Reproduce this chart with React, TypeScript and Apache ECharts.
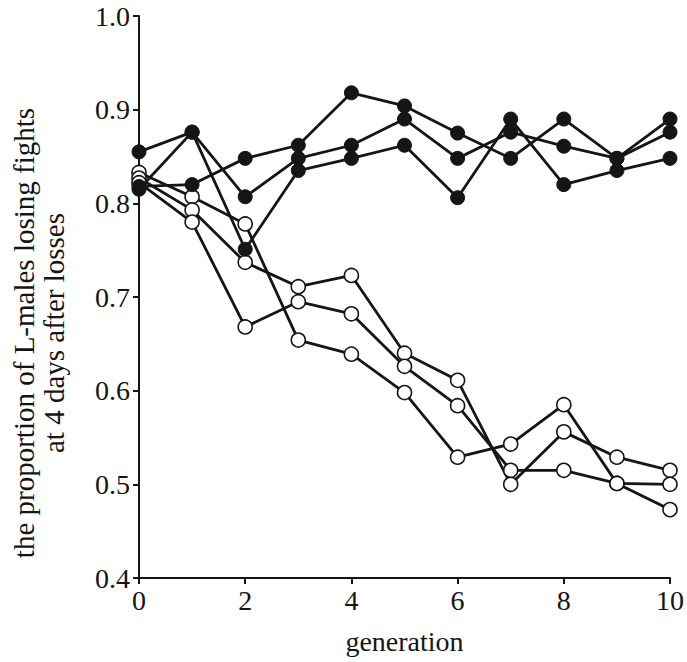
import React, { useEffect, useRef } from "react";
import * as echarts from "echarts";

const generations = [0, 1, 2, 3, 4, 5, 6, 7, 8, 9, 10];
const filledA = [0.855, 0.876, 0.751, 0.835, 0.848, 0.862, 0.806, 0.89, 0.82, 0.835, 0.848];
const filledB = [0.818, 0.82, 0.848, 0.862, 0.918, 0.904, 0.875, 0.848, 0.89, 0.848, 0.89];
const filledC = [0.815, 0.876, 0.807, 0.848, 0.862, 0.89, 0.848, 0.876, 0.861, 0.848, 0.876];
const openA = [0.833, 0.807, 0.778, 0.654, 0.639, 0.598, 0.529, 0.543, 0.585, 0.501, 0.473];
const openB = [0.827, 0.793, 0.737, 0.711, 0.723, 0.64, 0.611, 0.5, 0.556, 0.529, 0.515];
const openC = [0.822, 0.78, 0.668, 0.695, 0.682, 0.626, 0.584, 0.515, 0.515, 0.501, 0.5];

const xTicks = [0, 2, 4, 6, 8, 10];
const yTicks = [0.4, 0.5, 0.6, 0.7, 0.8, 0.9, 1.0];
const xName = "generation";
const yName = "the proportion of L-males losing fights\nat 4 days after losses";

const FONT = "'Liberation Serif', 'Times New Roman', serif";
const INK = "#151515";

function toPairs(vals: number[]) {
  return generations.map((g, i) => [g, vals[i]]);
}

export default function App() {
  const ref = useRef<HTMLDivElement>(null);
  useEffect(() => {
    if (!ref.current) return;
    const chart = echarts.init(ref.current, null, { renderer: "svg" });
    const mk = (vals: number[], filled: boolean) => ({
      type: "line",
      data: toPairs(vals),
      symbol: "circle",
      symbolSize: 14,
      showAllSymbol: true,
      lineStyle: { color: INK, width: 2.8 },
      itemStyle: filled
        ? { color: INK, borderColor: INK, borderWidth: 1 }
        : { color: "#ffffff", borderColor: INK, borderWidth: 1.6 },
      z: filled ? 3 : 2,
      emphasis: { disabled: true },
    });
    chart.setOption({
      animation: false,
      grid: { left: 139, right: 14, top: 16, bottom: 84, containLabel: false },
      xAxis: {
        type: "value",
        min: 0,
        max: 10,
        interval: 2,
        name: xName,
        nameLocation: "middle",
        nameGap: 49,
        nameTextStyle: { fontFamily: FONT, fontSize: 28, color: INK },
        axisLine: { lineStyle: { color: INK, width: 2 } },
        axisTick: { show: true, length: 6, lineStyle: { color: INK, width: 2 }, customValues: xTicks },
        axisLabel: {
          fontFamily: FONT,
          fontSize: 28,
          color: INK,
          margin: 8,
          customValues: xTicks,
          formatter: (v: number) => String(v),
        },
        splitLine: { show: false },
      },
      yAxis: {
        type: "value",
        min: 0.4,
        max: 1.0,
        interval: 0.1,
        name: yName,
        nameLocation: "middle",
        nameGap: 70,
        nameTextStyle: {
          fontFamily: FONT,
          fontSize: 29,
          color: INK,
          lineHeight: 30,
          align: "center",
          padding: [0, 72, 0, 0],
        },
        axisLine: { lineStyle: { color: INK, width: 2 } },
        axisTick: { show: true, length: 6, lineStyle: { color: INK, width: 2 }, customValues: yTicks },
        axisLabel: {
          fontFamily: FONT,
          fontSize: 28,
          color: INK,
          margin: 9,
          customValues: yTicks,
          formatter: (v: number) => v.toFixed(1),
        },
        splitLine: { show: false },
      },
      series: [
        mk(openA, false),
        mk(openB, false),
        mk(openC, false),
        mk(filledA, true),
        mk(filledB, true),
        mk(filledC, true),
      ],
    });
    return () => chart.dispose();
  }, []);
  return <div ref={ref} style={{ width: 687, height: 662, position: "absolute", left: 0, top: 0 }} />;
}
